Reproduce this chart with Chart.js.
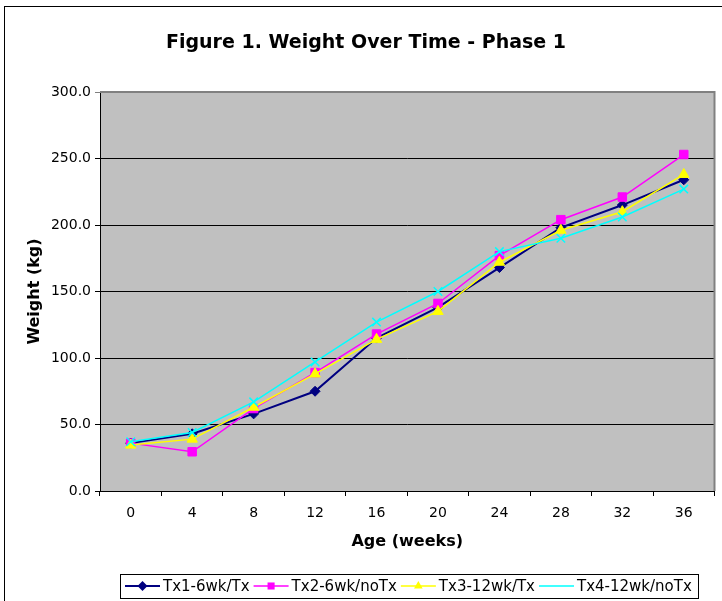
<!DOCTYPE html>
<html>
<head>
<meta charset="utf-8">
<script src="https://cdn.jsdelivr.net/npm/chart.js@4/dist/chart.umd.min.js"></script>
<style>
  html, body { margin: 0; padding: 0; background: #fff; }
  #wrap { width: 722px; height: 601px; }
</style>
</head>
<body>
<div id="wrap"><canvas id="weightChart" width="722" height="601"></canvas></div>
<script>
// umur dalam minggu
const ageWeeks = ['0', '4', '8', '12', '16', '20', '24', '28', '32', '36'];

// berat (kg) per perlakuan
const tx1 = [36, 43, 58, 75, 115, 138, 168, 198, 215, 234];
const tx2 = [36, 29.5, 62, 89, 118, 141, 177, 204, 221, 253];
const tx3 = [34.5, 39, 63, 88, 114, 135, 172, 196, 210, 238];
const tx4 = [37, 44, 67, 97, 127, 150, 180, 190, 206, 227];

const seriesNames = ['Tx1-6wk/Tx', 'Tx2-6wk/noTx', 'Tx3-12wk/Tx', 'Tx4-12wk/noTx'];
const yTicks = [0, 50, 100, 150, 200, 250, 300];

const chartTitle = 'Figure 1. Weight Over Time - Phase 1';
const xTitle = 'Age (weeks)';
const yTitle = 'Weight (kg)';

const FONT = '"DejaVu Sans", Verdana, sans-serif';

function makeSet(label, data, color, style, order, width) {
    return {
        label: label,
        data: data,
        borderColor: color,
        backgroundColor: color,
        pointBackgroundColor: color,
        pointBorderColor: color,
        pointStyle: style,
        pointRadius: style === 'rectRot' ? 5 : 6,
        pointBorderWidth: style === 'crossRot' ? 1.5 : 1,
        borderWidth: width,
        tension: 0,
        fill: false,
        order: order
    };
}

const datasets = [
    makeSet(seriesNames[0], tx1, '#000080', 'rectRot', 4, 2),
    makeSet(seriesNames[1], tx2, '#FF00FF', 'rect', 3, 1.5),
    makeSet(seriesNames[2], tx3, '#FFFF00', 'triangle', 2, 1.5),
    makeSet(seriesNames[3], tx4, '#00FFFF', 'crossRot', 1, 1.5)
];

// latar plot abu-abu + bingkai luar
const backdrop = {
    id: 'backdrop',
    beforeDraw(chart) {
        const { ctx, chartArea: a } = chart;
        ctx.save();
        ctx.fillStyle = '#fff';
        ctx.fillRect(0, 0, chart.width, chart.height);
        ctx.fillStyle = '#C0C0C0';
        ctx.fillRect(a.left, a.top, a.right - a.left, a.bottom - a.top);
        ctx.restore();
    },
    afterDraw(chart) {
        const { ctx, chartArea: a } = chart;
        ctx.save();

        // tepi atas & kanan plot
        ctx.strokeStyle = '#808080';
        ctx.lineWidth = 2;
        ctx.beginPath();
        ctx.moveTo(a.left, a.top);
        ctx.lineTo(a.right, a.top);
        ctx.lineTo(a.right, a.bottom);
        ctx.stroke();

        // bingkai grafik
        ctx.strokeStyle = '#000';
        ctx.lineWidth = 1;
        ctx.strokeRect(4.5, 6.5, chart.width + 10, chart.height + 10);

        // judul
        ctx.fillStyle = '#000';
        ctx.textAlign = 'center';
        ctx.textBaseline = 'alphabetic';
        ctx.font = 'bold 19px ' + FONT;
        ctx.fillText(chartTitle, 366, 48);

        // judul sumbu
        ctx.font = 'bold 16px ' + FONT;
        ctx.textBaseline = 'middle';
        ctx.fillText(xTitle, (a.left + a.right) / 2, 542);
        ctx.save();
        ctx.translate(35, (a.top + a.bottom) / 2);
        ctx.rotate(-Math.PI / 2);
        ctx.fillText(yTitle, 0, 0);
        ctx.restore();

        // legenda
        const boxL = 120, boxR = 698, boxT = 574, boxB = 598;
        const midY = (boxT + boxB) / 2;
        ctx.strokeStyle = '#000';
        ctx.lineWidth = 1;
        ctx.strokeRect(boxL + 0.5, boxT + 0.5, boxR - boxL, boxB - boxT);
        ctx.font = '15px ' + FONT;
        ctx.textAlign = 'left';
        let x = boxL + 5;
        chart.data.datasets.forEach(ds => {
            ctx.strokeStyle = ds.borderColor;
            ctx.lineWidth = ds.borderWidth;
            ctx.beginPath();
            ctx.moveTo(x, midY);
            ctx.lineTo(x + 35, midY);
            ctx.stroke();
            ctx.fillStyle = ds.pointBackgroundColor;
            ctx.strokeStyle = ds.pointBorderColor;
            ctx.lineWidth = ds.pointBorderWidth;
            Chart.helpers.drawPoint(ctx, { pointStyle: ds.pointStyle, radius: 5, rotation: 0 }, x + 17.5, midY);
            ctx.fillStyle = '#000';
            ctx.fillText(ds.label, x + 38, midY + 1);
            x += 38 + ctx.measureText(ds.label).width + 4;
        });

        ctx.restore();
    }
};

new Chart(document.getElementById('weightChart'), {
    type: 'line',
    data: {
        labels: ageWeeks,
        datasets: datasets
    },
    options: {
        responsive: false,
        animation: false,
        devicePixelRatio: 1,
        layout: {
            padding: { top: 92, right: 4, bottom: 45, left: 0 }
        },
        plugins: {
            legend: { display: false },
            title: { display: false },
            tooltip: { enabled: false }
        },
        scales: {
            x: {
                type: 'category',
                offset: true,
                grid: {
                    offset: true,
                    drawOnChartArea: false,
                    drawTicks: true,
                    tickLength: 5,
                    color: '#000'
                },
                border: { color: '#000', width: 1 },
                ticks: {
                    color: '#000',
                    font: { family: FONT, size: 14 },
                    padding: 9,
                    maxRotation: 0
                },
                afterFit: s => { s.height = 65; }
            },
            y: {
                min: 0,
                max: 300,
                afterBuildTicks: s => { s.ticks = yTicks.map(v => ({ value: v })); },
                grid: {
                    color: c => (c.tick && c.tick.value === 300) ? '#808080' : '#000',
                    tickLength: 5,
                    drawTicks: true
                },
                border: { color: '#000', width: 1 },
                ticks: {
                    color: '#000',
                    font: { family: FONT, size: 14 },
                    padding: 4,
                    callback: v => Number(v).toFixed(1)
                },
                afterFit: s => { s.width = 100; }
            }
        }
    },
    plugins: [backdrop]
});
</script>
</body>
</html>
